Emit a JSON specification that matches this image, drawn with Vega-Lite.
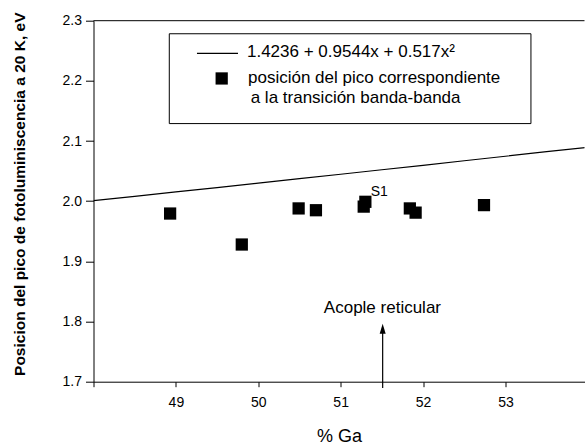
{
  "$schema": "https://vega.github.io/schema/vega-lite/v6.json",
  "autosize": {"type": "none"},
  "width": 491,
  "height": 361,
  "padding": {"left": 93.5, "top": 20.7, "right": 0, "bottom": 63.3},
  "background": "white",
  "config": {
    "view": {"stroke": null},
    "font": "Liberation Sans",
    "axis": {"grid": false, "domainColor": "black", "tickColor": "black", "labelColor": "black", "titleColor": "black", "labelFont": "Liberation Sans", "titleFont": "Liberation Sans", "domainWidth": 1, "tickWidth": 1}
  },
  "datasets": {
    "curve": [
      {"ga": 48.0, "ev": 2.0008},
      {"ga": 48.5, "ev": 2.0081},
      {"ga": 49.0, "ev": 2.0154},
      {"ga": 49.5, "ev": 2.0227},
      {"ga": 50.0, "ev": 2.0301},
      {"ga": 50.5, "ev": 2.0374},
      {"ga": 51.0, "ev": 2.0448},
      {"ga": 51.5, "ev": 2.0523},
      {"ga": 52.0, "ev": 2.0597},
      {"ga": 52.5, "ev": 2.0672},
      {"ga": 53.0, "ev": 2.0747},
      {"ga": 53.5, "ev": 2.0824},
      {"ga": 54.0, "ev": 2.0897}
    ],
    "points": [
      {"ga": 48.93, "ev": 1.9795},
      {"ga": 49.80, "ev": 1.928},
      {"ga": 50.49, "ev": 1.988},
      {"ga": 50.70, "ev": 1.985},
      {"ga": 51.28, "ev": 1.991},
      {"ga": 51.30, "ev": 1.999},
      {"ga": 51.84, "ev": 1.988},
      {"ga": 51.91, "ev": 1.981},
      {"ga": 52.74, "ev": 1.9935}
    ],
    "one": [{"k": 1}]
  },
  "layer": [
    {
      "data": {"name": "curve"},
      "mark": {"type": "line", "color": "black", "strokeWidth": 1.2, "clip": true},
      "encoding": {
        "x": {"field": "ga", "type": "quantitative",
          "scale": {"domain": [48, 53.96], "nice": false, "zero": false},
          "axis": {"values": [48, 49, 50, 51, 52, 53], "format": "d", "labelExpr": "datum.value == 48 ? '' : format(datum.value, 'd')", "tickSize": 5, "labelFontSize": 14, "labelPadding": 9, "title": "% Ga", "titleFontSize": 18, "titleFontWeight": "normal", "titlePadding": 18}},
        "y": {"field": "ev", "type": "quantitative",
          "scale": {"domain": [1.7, 2.3], "nice": false, "zero": false},
          "axis": {"values": [1.7, 1.75, 1.8, 1.85, 1.9, 1.95, 2.0, 2.05, 2.1, 2.15, 2.2, 2.25, 2.3],
            "labelExpr": "abs(datum.value*10 - round(datum.value*10)) < 0.01 ? format(datum.value, '.1f') : ''",
            "labelOverlap": false,
            "tickSize": {"condition": {"test": "abs(datum.value*10 - round(datum.value*10)) < 0.01", "value": 8}, "value": 4},
            "labelFontSize": 14, "labelPadding": 4,
            "title": "Posicion del pico de fotoluminiscencia a 20 K, eV",
            "titleFontSize": 15.5, "titleFontWeight": "bold", "titleX": -74.5, "titleY": 173, "titleBaseline": "middle", "titleAngle": -90}}
      }
    },
    {
      "data": {"name": "one"},
      "mark": {"type": "rule", "color": "black", "strokeWidth": 1},
      "encoding": {"y": {"datum": 2.3}}
    },
    {
      "data": {"name": "points"},
      "mark": {"type": "point", "shape": "square", "filled": true, "color": "black", "opacity": 1, "size": 150},
      "encoding": {
        "x": {"field": "ga", "type": "quantitative"},
        "y": {"field": "ev", "type": "quantitative"}
      }
    },
    {
      "data": {"name": "one"},
      "mark": {"type": "text", "text": "S1", "fontSize": 14, "align": "left", "baseline": "middle", "color": "black"},
      "encoding": {"x": {"datum": 51.364}, "y": {"datum": 2.0155}}
    },
    {
      "data": {"name": "one"},
      "mark": {"type": "text", "text": "Acople reticular", "fontSize": 17, "align": "center", "baseline": "middle", "color": "black"},
      "encoding": {"x": {"datum": 51.507}, "y": {"datum": 1.822}}
    },
    {
      "data": {"name": "one"},
      "mark": {"type": "rule", "color": "black", "strokeWidth": 1.2},
      "encoding": {"x": {"datum": 51.51}, "y": {"datum": 1.6895}, "y2": {"datum": 1.79}}
    },
    {
      "data": {"name": "one"},
      "mark": {"type": "point", "shape": "M0,-1L0.6,1L-0.6,1Z", "filled": true, "color": "black", "opacity": 1, "size": 100},
      "encoding": {"x": {"datum": 51.51}, "y": {"datum": 1.7878}}
    },
    {
      "data": {"name": "one"},
      "mark": {"type": "rect", "fill": "white", "stroke": "black", "strokeWidth": 1},
      "encoding": {"x": {"datum": 48.92}, "x2": {"datum": 53.31}, "y": {"datum": 2.2783}, "y2": {"datum": 2.129}}
    },
    {
      "data": {"name": "one"},
      "mark": {"type": "rule", "color": "black", "strokeWidth": 1.2},
      "encoding": {"x": {"datum": 49.256}, "x2": {"datum": 49.754}, "y": {"datum": 2.2457}}
    },
    {
      "data": {"name": "one"},
      "mark": {"type": "text", "text": "1.4236 + 0.9544x + 0.517x²", "fontSize": 17, "align": "left", "baseline": "middle", "color": "black"},
      "encoding": {"x": {"datum": 49.863}, "y": {"datum": 2.2478}}
    },
    {
      "data": {"name": "one"},
      "mark": {"type": "point", "shape": "square", "filled": true, "color": "black", "opacity": 1, "size": 150},
      "encoding": {"x": {"datum": 49.556}, "y": {"datum": 2.204}}
    },
    {
      "data": {"name": "one"},
      "mark": {"type": "text", "text": "posición del pico correspondiente", "fontSize": 17, "align": "left", "baseline": "middle", "color": "black"},
      "encoding": {"x": {"datum": 49.875}, "y": {"datum": 2.2045}}
    },
    {
      "data": {"name": "one"},
      "mark": {"type": "text", "text": "a la transición banda-banda", "fontSize": 17, "align": "left", "baseline": "middle", "color": "black"},
      "encoding": {"x": {"datum": 49.908}, "y": {"datum": 2.1712}}
    }
  ]
}
